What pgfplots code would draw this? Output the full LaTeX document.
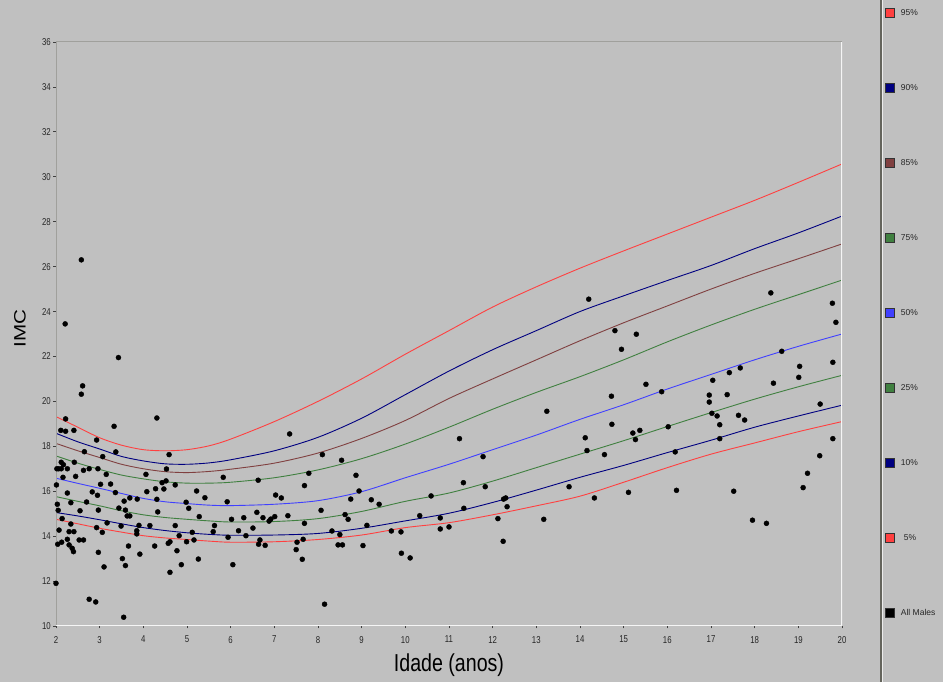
\documentclass[border=0pt]{standalone}
\usepackage{fontspec}
\setmainfont{Liberation Sans}
\usepackage{pgfplots}
\pgfplotsset{compat=1.18}
\usepackage{pgfplotstable}

\definecolor{bg}{RGB}{192,192,192}
\definecolor{c95}{RGB}{255,64,64}
\definecolor{c90}{RGB}{0,0,128}
\definecolor{c85}{RGB}{128,64,64}
\definecolor{c75}{RGB}{64,128,64}
\definecolor{c50}{RGB}{64,64,255}
\definecolor{axgray}{RGB}{160,160,156}
\definecolor{sepgray}{RGB}{100,100,92}

\pgfplotstableread{
x    p95   p90   p85   p75   p50   p25   p10   p5
2    19.32 18.58 18.13 17.57 16.58 15.76 15.05 14.75
2.5  18.85 18.20 17.80 17.25 16.35 15.55 14.90 14.55
3    18.38 17.88 17.50 16.97 16.13 15.35 14.73 14.35
3.5  18.05 17.55 17.20 16.72 15.90 15.13 14.55 14.18
4    17.85 17.35 17.00 16.55 15.68 14.95 14.38 14.02
4.5  17.80 17.22 16.87 16.42 15.53 14.83 14.25 13.92
5    17.85 17.20 16.83 16.36 15.45 14.75 14.15 13.85
5.5  18.02 17.26 16.88 16.36 15.38 14.68 14.08 13.78
6    18.32 17.40 16.98 16.40 15.36 14.63 14.04 13.73
7    19.10 17.80 17.25 16.60 15.42 14.65 14.05 13.75
8    20.00 18.40 17.70 16.95 15.58 14.78 14.12 13.85
9    21.00 19.25 18.35 17.45 15.98 15.10 14.35 14.05
10   22.10 20.30 19.15 18.10 16.60 15.55 14.68 14.38
11   23.15 21.35 20.13 18.85 17.20 15.92 15.02 14.60
12   24.20 22.30 21.00 19.65 17.85 16.45 15.50 14.95
13   25.10 23.15 21.85 20.40 18.50 17.05 16.05 15.35
14   25.93 24.00 22.70 21.10 19.20 17.65 16.62 15.78
15   26.70 24.70 23.50 21.85 19.85 18.25 17.15 16.40
16   27.45 25.38 24.25 22.65 20.55 18.88 17.72 17.05
17   28.20 26.05 25.00 23.40 21.20 19.50 18.27 17.65
18   28.95 26.80 25.70 24.10 21.85 20.10 18.85 18.15
19   29.75 27.50 26.35 24.75 22.45 20.65 19.35 18.65
20   30.57 28.25 27.01 25.40 23.00 21.16 19.83 19.10
}\curves

\pgfplotstableread{
x y
2.58 26.30
2.21 23.45
3.43 21.95
2.61 20.69
2.58 20.32
4.31 19.26
2.22 19.22
3.33 18.89
2.11 18.71
2.22 18.67
2.41 18.71
2.93 18.28
2.65 17.76
3.07 17.54
3.37 17.75
4.59 17.63
2.12 17.00
2.02 17.00
2.06 17.00
2.12 17.29
2.17 17.18
2.42 17.29
2.26 17.00
2.45 16.66
2.16 16.62
2.63 16.93
2.76 17.00
2.96 17.00
3.15 16.75
2.01 16.28
2.26 15.92
2.34 15.49
2.03 15.42
2.05 15.15
2.14 14.78
2.07 14.27
2.30 14.20
2.41 14.20
2.34 14.54
2.04 13.64
2.13 13.73
2.26 13.86
2.30 13.61
2.37 13.46
2.40 13.31
2.53 13.83
2.63 13.83
2.00 11.90
2.76 11.19
2.91 11.07
2.55 15.13
2.70 15.52
2.95 15.82
2.83 15.97
2.97 15.16
3.02 16.31
3.25 16.32
3.36 15.94
3.44 15.25
3.59 15.16
3.56 15.56
3.69 15.70
3.63 14.90
3.69 14.90
3.49 14.45
3.17 14.59
2.93 14.38
3.06 14.17
2.97 13.28
3.10 12.63
3.66 13.56
3.52 13.00
3.59 12.69
3.55 10.39
3.92 13.20
3.85 14.24
3.85 14.10
3.90 14.48
4.15 14.47
3.86 15.65
4.06 16.75
4.08 15.98
4.26 13.56
4.28 16.11
4.31 15.64
4.33 15.08
4.43 16.38
4.47 16.10
4.52 16.46
4.53 16.99
4.57 13.68
4.61 13.75
4.61 12.39
4.73 16.28
4.73 14.47
4.77 13.35
4.82 14.02
4.87 12.73
4.98 15.51
4.99 13.75
5.04 15.24
5.12 14.17
5.16 13.83
5.22 16.01
5.26 12.98
5.28 14.87
5.41 15.71
5.60 14.20
5.63 14.47
5.83 16.62
5.92 15.53
5.94 13.95
6.02 14.75
6.05 12.73
6.18 14.24
6.30 14.82
6.35 14.02
6.51 14.36
6.60 15.06
6.63 16.49
6.64 13.64
6.67 13.83
6.74 14.82
6.79 13.59
6.88 14.67
6.92 14.76
7.01 14.87
7.03 15.83
7.16 15.70
7.31 14.91
7.35 18.55
7.50 13.40
7.52 13.73
7.64 12.97
7.66 13.86
7.69 14.57
7.69 16.25
7.79 16.80
8.07 15.15
8.10 17.63
8.15 10.97
8.32 14.23
8.46 13.61
8.50 14.07
8.56 13.61
8.54 17.38
8.62 14.96
8.69 14.75
8.75 15.65
8.87 16.71
8.94 16.01
9.03 13.58
9.12 14.48
9.22 15.62
9.40 15.42
9.68 14.23
9.90 14.19
9.91 13.24
10.11 13.03
10.33 14.91
10.59 15.79
10.80 14.81
10.80 14.32
11.00 14.41
11.24 18.34
11.33 16.38
11.34 15.24
11.78 17.54
11.83 16.20
12.12 14.78
12.24 13.77
12.25 15.65
12.30 15.70
12.33 15.31
13.17 14.75
13.24 19.56
13.75 16.20
14.12 18.38
14.16 17.81
14.33 15.70
14.56 17.63
14.72 20.23
14.73 18.98
15.11 15.95
15.21 18.59
15.27 18.30
15.37 18.71
15.51 20.76
15.87 20.43
16.02 18.87
16.18 17.75
16.21 16.04
16.96 20.28
16.96 19.97
14.20 24.55
14.80 23.15
15.29 22.99
14.95 22.32
18.37 24.83
19.78 24.37
19.86 23.52
18.62 22.23
17.04 20.94
17.42 21.28
17.67 21.49
19.03 21.56
19.01 21.07
18.43 20.81
19.79 21.74
17.37 20.30
17.02 19.47
17.14 19.35
17.20 18.96
17.63 19.38
17.77 19.17
17.20 18.34
19.50 19.88
19.79 18.34
19.49 17.58
19.21 16.80
19.11 16.16
17.52 16.00
17.95 14.71
18.27 14.57
}\males

\begin{document}
\begin{tikzpicture}[x=1pt,y=1pt]
\fill[bg] (0,0) rectangle (943,682);
\begin{axis}[
  at={(56pt,56pt)}, anchor=south west,
  scale only axis, width=786pt, height=584pt,
  xmin=2, xmax=20, ymin=10, ymax=36,
  xtick={2,3,...,20}, ytick={10,12,...,36},
  xtick pos=bottom, ytick pos=left,
  axis line style={draw=none},
  tick align=outside, major tick length=2.5pt,
  tick style={color=black!75, line width=0.8pt},
  ticklabel style={font=\fontsize{10}{10}\selectfont, xscale=0.78, text=black!85},
  xticklabel style={yshift=-4pt},
  /pgf/number format/assume math mode=true,
  xlabel={Idade (anos)}, ylabel={IMC},
  xlabel style={at={(axis description cs:0.5,-0.0665)}, anchor=center,
    font=\fontsize{24.5}{24.5}\selectfont, xscale=0.8},
  ylabel style={at={(axis description cs:-0.0458,0.51)}, anchor=center,
    font=\fontsize{16.5}{16.5}\selectfont, xscale=1.25},
  legend style={at={(axis description cs:1.0547,1.0575)}, anchor=north west,
    draw=none, fill=none, inner sep=0pt, outer sep=0pt,
    row sep=65.1pt, column sep=6pt,
    font=\fontsize{8.5}{8.5}\selectfont,
    nodes={inner sep=0pt, text=black!85}},
  legend cell align=left,
]
\addplot[c95, line width=0.9pt, smooth, tension=0.5,
  legend image code/.code={\draw[black!80,fill=c95] (0pt,-4.5pt) rectangle (9pt,4.5pt);}]
  table[x=x,y=p95]{\curves};
\addlegendentry{95\%}
\addplot[c90, line width=0.9pt, smooth, tension=0.5,
  legend image code/.code={\draw[black!80,fill=c90] (0pt,-4.5pt) rectangle (9pt,4.5pt);}]
  table[x=x,y=p90]{\curves};
\addlegendentry{90\%}
\addplot[c85, line width=0.9pt, smooth, tension=0.5,
  legend image code/.code={\draw[black!80,fill=c85] (0pt,-4.5pt) rectangle (9pt,4.5pt);}]
  table[x=x,y=p85]{\curves};
\addlegendentry{85\%}
\addplot[c75, line width=0.9pt, smooth, tension=0.5,
  legend image code/.code={\draw[black!80,fill=c75] (0pt,-4.5pt) rectangle (9pt,4.5pt);}]
  table[x=x,y=p75]{\curves};
\addlegendentry{75\%}
\addplot[c50, line width=0.9pt, smooth, tension=0.5,
  legend image code/.code={\draw[black!80,fill=c50] (0pt,-4.5pt) rectangle (9pt,4.5pt);}]
  table[x=x,y=p50]{\curves};
\addlegendentry{50\%}
\addplot[c75, line width=0.9pt, smooth, tension=0.5,
  legend image code/.code={\draw[black!80,fill=c75] (0pt,-4.5pt) rectangle (9pt,4.5pt);}]
  table[x=x,y=p25]{\curves};
\addlegendentry{25\%}
\addplot[c90, line width=0.9pt, smooth, tension=0.5,
  legend image code/.code={\draw[black!80,fill=c90] (0pt,-4.5pt) rectangle (9pt,4.5pt);}]
  table[x=x,y=p10]{\curves};
\addlegendentry{10\%}
\addplot[c95, line width=0.9pt, smooth, tension=0.5,
  legend image code/.code={\draw[black!80,fill=c95] (0pt,-4.5pt) rectangle (9pt,4.5pt);}]
  table[x=x,y=p5]{\curves};
\addlegendentry{\hspace*{3pt}5\%}
\addplot[only marks, mark=*, mark size=2.5pt, mark options={draw=black, fill=black},
  legend image code/.code={\draw[black!80,fill=black] (0pt,-4.5pt) rectangle (9pt,4.5pt);}]
  table[x=x,y=y]{\males};
\addlegendentry{All Males}
\draw[axgray, line width=1pt] (axis description cs:0,0) -- (axis description cs:0,1) -- (axis description cs:1,1);
\draw[white!92!gray, line width=2pt] (axis description cs:0,0) -- (axis description cs:1,0) -- (axis description cs:1,1);
\end{axis}
\draw[sepgray, line width=2pt] (880.5,0) -- (880.5,682);
\draw[white!85!gray, line width=0.8pt] (882.3,0) -- (882.3,682);
\pgfresetboundingbox
\path (0,0) rectangle (943,682);
\end{tikzpicture}
\end{document}
